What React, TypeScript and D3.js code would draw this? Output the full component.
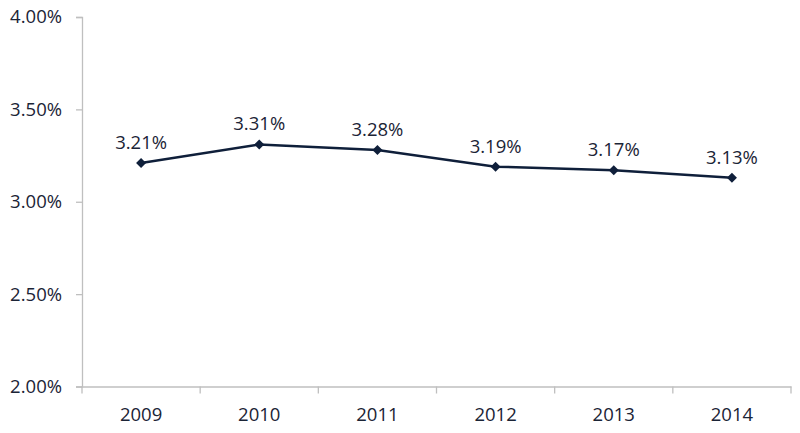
import React, { useEffect, useRef } from "react";
import { select, scaleBand, scaleLinear, axisLeft, axisBottom, line } from "d3";

const years = ["2009", "2010", "2011", "2012", "2013", "2014"];
const rates = [3.21, 3.31, 3.28, 3.19, 3.17, 3.13];
const yTicks = [2.0, 2.5, 3.0, 3.5, 4.0];

const W = 800;
const H = 433;
const FONT = "'Open Sans', sans-serif";
const AXIS = "#bfbfbf";
const INK = "#1b2436";
const LINE = "#0f1f3a";

const App = () => {
  const svgRef = useRef<SVGSVGElement>(null);

  useEffect(() => {
    const svg = select(svgRef.current);
    svg.selectAll("*").remove();

    const x = scaleBand().domain(years).range([82, 791]);
    const y = scaleLinear().domain([2, 4]).range([386.5, 17]);

    // y axis
    const gy = svg
      .append("g")
      .attr("transform", "translate(82,0)")
      .call(
        axisLeft(y)
          .tickValues(yTicks)
          .tickSize(6)
          .tickPadding(14)
          .tickFormat((d) => (d as number).toFixed(2) + "%")
      );
    gy.select(".domain").attr("stroke", AXIS).attr("stroke-width", 1.3);
    gy.selectAll(".tick line").attr("stroke", AXIS).attr("stroke-width", 1.3);
    gy.selectAll(".tick text")
      .attr("fill", INK)
      .style("font", `18.5px ${FONT}`);

    // x axis, ticks at band edges
    const gx = svg
      .append("g")
      .attr("transform", "translate(0,386.5)")
      .call(axisBottom(x).tickSize(0));
    gx.select(".domain").attr("stroke", AXIS).attr("stroke-width", 1.3);
    gx.selectAll(".tick text")
      .attr("fill", INK)
      .attr("y", 34.5)
      .attr("dy", 0)
      .style("font", `18.5px ${FONT}`);
    const edges = years.map((d) => x(d) as number).concat([x.range()[1]]);
    gx.selectAll(".edge")
      .data(edges)
      .join("line")
      .attr("class", "edge")
      .attr("x1", (d) => d)
      .attr("x2", (d) => d)
      .attr("y1", 0)
      .attr("y2", 7)
      .attr("stroke", AXIS)
      .attr("stroke-width", 1.3);

    const cx = (i: number) => (x(years[i]) as number) + x.bandwidth() / 2;

    const path = line<number>()
      .x((_, i) => cx(i))
      .y((d) => y(d));

    svg
      .append("path")
      .datum(rates)
      .attr("d", path)
      .attr("fill", "none")
      .attr("stroke", LINE)
      .attr("stroke-width", 2.5);

    svg
      .selectAll(".marker")
      .data(rates)
      .join("path")
      .attr("class", "marker")
      .attr("d", "M0,-5L5,0L0,5L-5,0Z")
      .attr("transform", (d, i) => `translate(${cx(i)},${y(d)})`)
      .attr("fill", LINE);

    svg
      .selectAll(".label")
      .data(rates)
      .join("text")
      .attr("class", "label")
      .attr("x", (_, i) => cx(i))
      .attr("y", (d) => y(d) - 14)
      .attr("text-anchor", "middle")
      .attr("fill", INK)
      .style("font", `18.5px ${FONT}`)
      .text((d) => d.toFixed(2) + "%");
  }, []);

  return (
    <svg
      ref={svgRef}
      width={W}
      height={H}
      style={{ position: "absolute", left: 0, top: 0, background: "#fff" }}
    />
  );
};

export default App;
